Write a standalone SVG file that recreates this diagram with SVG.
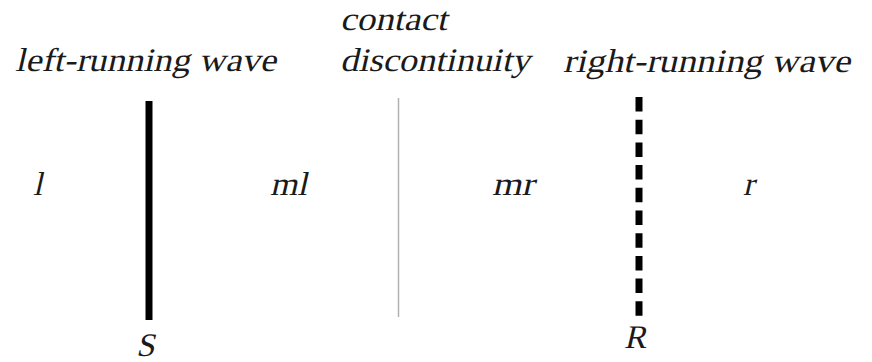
<svg xmlns="http://www.w3.org/2000/svg" width="872" height="362" viewBox="0 0 872 362">
<style>
.wave{stroke:#000;stroke-width:7;fill:none}
.contact{stroke:#b0b0b0;stroke-width:1.5;fill:none}
</style>
<rect width="872" height="362" fill="#fff"/>
<g id="connectors">
<line id="shock-S" class="wave" x1="149" y1="101" x2="149" y2="320"/>
<line id="contact-line" class="contact" x1="398.5" y1="98" x2="398.5" y2="317"/>
<line id="rarefaction-R" class="wave" x1="639" y1="97" x2="639" y2="316" stroke-dasharray="14.5 8.2"/>
</g>
<g id="label-left" transform="translate(15,71) skewX(-13)"><text x="0" y="0" font-family="Liberation Serif" font-size="33" fill="#1a1a1a" textLength="261" lengthAdjust="spacingAndGlyphs">left-running wave</text></g>
<g id="label-contact"><g transform="translate(340,30) skewX(-13)"><text x="0" y="0" font-family="Liberation Serif" font-size="33" fill="#1a1a1a" textLength="107" lengthAdjust="spacingAndGlyphs">contact</text></g><g transform="translate(340,71) skewX(-13)"><text x="0" y="0" font-family="Liberation Serif" font-size="33" fill="#1a1a1a" textLength="190" lengthAdjust="spacingAndGlyphs">discontinuity</text></g></g>
<g id="label-right" transform="translate(563,72) skewX(-13)"><text x="0" y="0" font-family="Liberation Serif" font-size="33" fill="#1a1a1a" textLength="287" lengthAdjust="spacingAndGlyphs">right-running wave</text></g>
<g id="region-l" transform="translate(33,195) skewX(-13)"><text x="0" y="0" font-family="Liberation Serif" font-size="33" fill="#1a1a1a">l</text></g>
<g id="region-ml" transform="translate(270,195) skewX(-13)"><text x="0" y="0" font-family="Liberation Serif" font-size="33" fill="#1a1a1a" textLength="37" lengthAdjust="spacingAndGlyphs">ml</text></g>
<g id="region-mr" transform="translate(492,195) skewX(-13)"><text x="0" y="0" font-family="Liberation Serif" font-size="33" fill="#1a1a1a" textLength="42" lengthAdjust="spacingAndGlyphs">mr</text></g>
<g id="region-r" transform="translate(743,195) skewX(-13)"><text x="0" y="0" font-family="Liberation Serif" font-size="33" fill="#1a1a1a">r</text></g>
<g id="label-S" transform="translate(136,356) skewX(-13)"><text x="0" y="0" font-family="Liberation Serif" font-size="33" fill="#1a1a1a">S</text></g>
<g id="label-R" transform="translate(624,348) skewX(-13)"><text x="0" y="0" font-family="Liberation Serif" font-size="33" fill="#1a1a1a">R</text></g>
</svg>
